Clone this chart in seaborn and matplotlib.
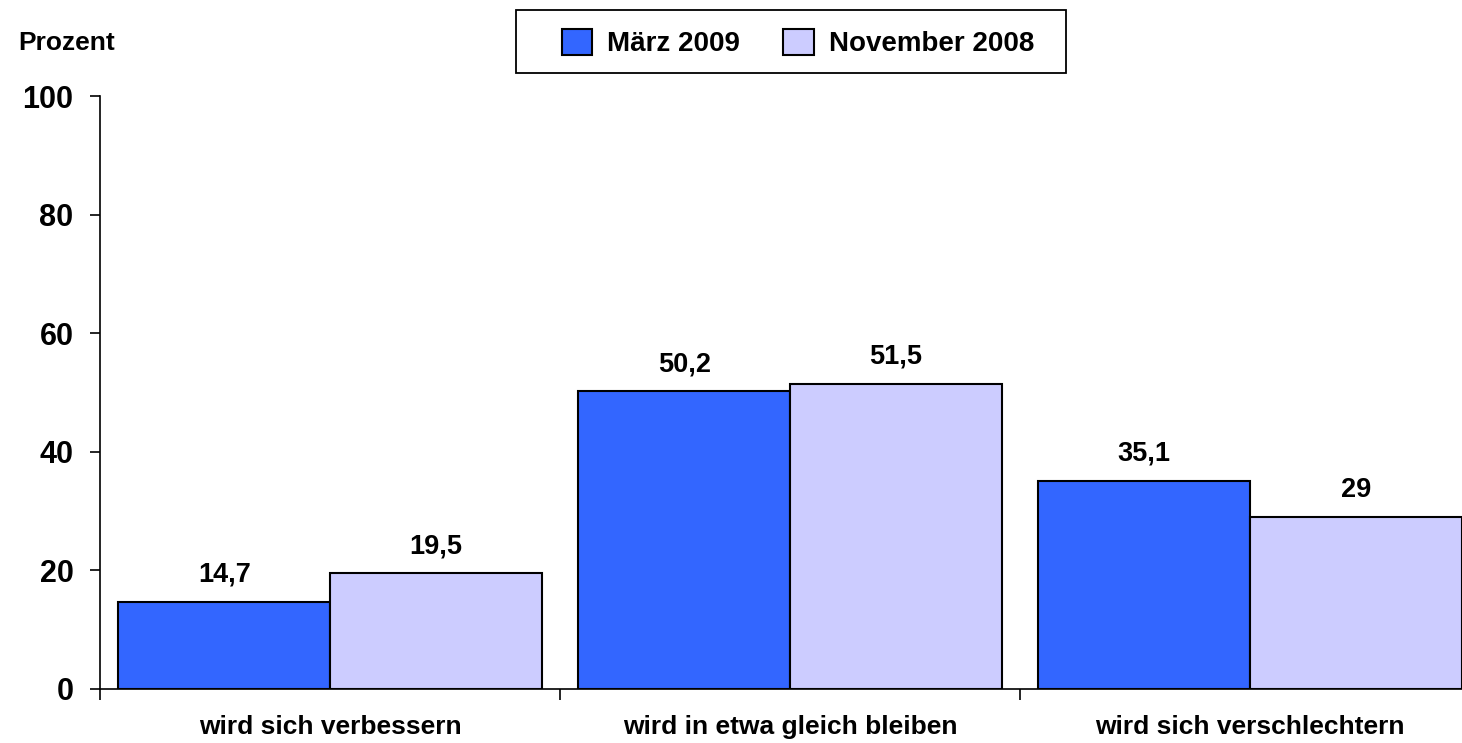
import matplotlib
matplotlib.use("Agg")
import matplotlib.pyplot as plt
from matplotlib.patches import Rectangle
import pandas as pd
import seaborn as sns

categories = ["wird sich verbessern", "wird in etwa gleich bleiben", "wird sich verschlechtern"]
series = ["März 2009", "November 2008"]
maerz_2009 = [14.7, 50.2, 35.1]
november_2008 = [19.5, 51.5, 29]
y_ticks = [0, 20, 40, 60, 80, 100]

sns.set_theme(style="white")
plt.rcParams['font.family'] = ['Liberation Sans', 'DejaVu Sans']
plt.rcParams['font.weight'] = 'bold'
plt.rcParams['text.color'] = 'black'
plt.rcParams['xtick.color'] = 'black'
plt.rcParams['ytick.color'] = 'black'
plt.rcParams['axes.labelcolor'] = 'black'

df = pd.DataFrame({
    "Kategorie": categories * 2,
    "Zeitpunkt": [series[0]] * 3 + [series[1]] * 3,
    "Prozent": maerz_2009 + november_2008,
})

fig = plt.figure(figsize=(14.62, 7.43), dpi=100)
ax = fig.add_axes([100 / 1462, 54 / 743, 1380 / 1462, 593 / 743])

sns.barplot(data=df, x="Kategorie", y="Prozent", hue="Zeitpunkt",
            order=categories, hue_order=series,
            palette=["#3366FF", "#CCCCFF"], width=0.92, gap=0,
            edgecolor="black", linewidth=1.5, saturation=1, ax=ax)

for cont, vals in zip(ax.containers, [maerz_2009, november_2008]):
    labels = [("%g" % v).replace(".", ",") for v in vals]
    ax.bar_label(cont, labels=labels, padding=10, fontsize=19.5, fontweight="bold")

ax.set_ylim(0, 100)
ax.set_xlim(-0.5, 2.5)
ax.set_yticks(y_ticks)
ax.tick_params(axis="y", labelsize=22, length=7, width=1.2, pad=12, direction="out", left=True)
ax.set_xticks([-0.5, 0.5, 1.5, 2.5], minor=True)
ax.tick_params(axis="x", which="major", length=0, labelsize=19, pad=19)
ax.tick_params(axis="x", which="minor", length=8, width=1.2, direction="out", bottom=True)
ax.set_xlabel("")
ax.set_ylabel("")
for s in ["top", "right"]:
    ax.spines[s].set_visible(False)
for s in ["left", "bottom"]:
    ax.spines[s].set_color("black")
    ax.spines[s].set_linewidth(1.2)

# legend: frame drawn separately, entries centred inside
fig.patches.append(Rectangle((516 / 1462, 1 - 73 / 743), 550 / 1462, 63 / 743,
                             transform=fig.transFigure, fill=False,
                             edgecolor="black", linewidth=1.3))
ax.legend(loc="center", bbox_to_anchor=(798 / 1462, 1 - 43 / 743),
          bbox_transform=fig.transFigure, ncol=2, fontsize=20,
          frameon=False, handlelength=1.1, handleheight=1.1,
          handletextpad=0.55, columnspacing=1.55, title=None)

fig.text(18 / 1462, 1 - 43 / 743, "Prozent", ha="left", va="center",
         fontsize=19, fontweight="bold")

plt.savefig("out.png", dpi=100)
